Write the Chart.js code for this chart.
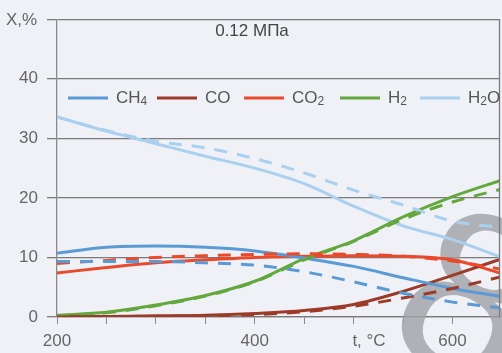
<!DOCTYPE html>
<html>
<head>
<meta charset="utf-8">
<script src="https://cdn.jsdelivr.net/npm/chart.js@4/dist/chart.umd.min.js"></script>
<style>
  html, body { margin: 0; padding: 0; background: #eff1f7; }
  #wrap { width: 502px; height: 353px; position: relative; }
</style>
</head>
<body>
<div id="wrap"><canvas id="c"></canvas></div>
<script>
// Temperature grid, °C
const temperatures = [200, 250, 300, 350, 400, 450, 500, 550, 600, 650];

// Mole fractions, % (solid and dashed curve sets)
const ch4Solid  = [10.7, 11.7, 11.9, 11.7, 11.1, 9.9, 8.5, 6.6, 4.8, 3.4];
const ch4Dashed = [9.3, 9.3, 9.3, 9.1, 8.7, 7.6, 5.9, 4.0, 2.5, 1.5];
const coSolid   = [0.1, 0.1, 0.2, 0.3, 0.6, 1.1, 2.1, 4.3, 7.0, 9.8];
const coDashed  = [0.0, 0.05, 0.1, 0.2, 0.4, 0.9, 1.8, 3.2, 4.8, 6.8];
const co2Solid  = [7.4, 8.3, 9.1, 9.6, 10.0, 10.2, 10.3, 10.2, 9.6, 7.3];
const co2Dashed = [9.0, 9.5, 10.0, 10.3, 10.5, 10.6, 10.5, 10.2, 9.4, 8.0];
const h2Solid   = [0.3, 0.8, 2.0, 3.6, 6.0, 9.8, 12.8, 16.8, 20.2, 23.0];
const h2Dashed  = [0.2, 0.7, 1.9, 3.5, 5.9, 9.6, 12.7, 16.4, 19.3, 21.5];
const h2oSolid  = [33.6, 31.2, 29.1, 27.0, 25.0, 22.4, 18.6, 15.3, 13.0, 10.0];
const h2oDashed = [33.6, 31.3, 29.5, 28.4, 26.6, 24.2, 21.3, 18.8, 16.1, 15.0];

const species = ['CH₄', 'CO', 'CO₂', 'H₂', 'H₂O'];
const speciesColors = ['#5b9bd5', '#9c3b28', '#ea4a2a', '#63a83c', '#a9d0ef'];
const yTicks = [0, 10, 20, 30, 40, 50];
const xTickValues = [200, 250, 300, 350, 400, 450, 500, 550, 600];
const xLabels = { 200: '200', 400: '400', 600: '600' };
const xAxisTitle = 't, °C';
const titleText = '0.12 МПа';
const yAxisTitle = 'X,%';
const pageMark = '8';

const FONT = '"Liberation Sans", Arial, sans-serif';
const FS = 17;

function series(values) {
  return values.map((v, i) => ({ x: temperatures[i], y: v }));
}

const solidSets = [ch4Solid, coSolid, co2Solid, h2Solid, h2oSolid];
const dashedSets = [ch4Dashed, coDashed, co2Dashed, h2Dashed, h2oDashed];

const datasets = [];
dashedSets.forEach((vals, i) => {
  datasets.push({
    label: species[i] + ' (dashed)',
    data: series(vals),
    borderColor: speciesColors[i],
    borderWidth: 3,
    borderDash: [13, 10],
    pointRadius: 0,
    cubicInterpolationMode: 'monotone',
    fill: false
  });
});
solidSets.forEach((vals, i) => {
  datasets.push({
    label: species[i],
    data: series(vals),
    borderColor: speciesColors[i],
    borderWidth: 3,
    pointRadius: 0,
    cubicInterpolationMode: 'monotone',
    fill: false
  });
});

// Draws text where subscript digits are rendered small and lowered
function drawChem(ctx, text, x, y, size) {
  const subs = { '₀':'0','₁':'1','₂':'2','₃':'3','₄':'4','₅':'5','₆':'6','₇':'7','₈':'8','₉':'9' };
  let cx = x;
  for (const ch of text) {
    if (subs[ch]) {
      ctx.font = Math.round(size * 0.68) + 'px ' + FONT;
      ctx.fillText(subs[ch], cx, y + size * 0.2);
      cx += ctx.measureText(subs[ch]).width;
    } else {
      ctx.font = size + 'px ' + FONT;
      ctx.fillText(ch, cx, y);
      cx += ctx.measureText(ch).width;
    }
  }
  return cx - x;
}

// left edges of the legend entries
const legendX = [68, 157, 244, 340, 420];

const decorPlugin = {
  id: 'decor',
  beforeDraw(chart) {
    const ctx = chart.ctx;
    ctx.save();
    ctx.fillStyle = '#eff1f7';
    ctx.fillRect(0, 0, chart.width, chart.height);
    ctx.restore();
  },
  beforeDatasetsDraw(chart) {
    const ctx = chart.ctx;
    // page number printed faintly across the corner
    ctx.save();
    ctx.translate(466, 311);
    ctx.rotate(0.45);
    ctx.font = '236px ' + FONT;
    ctx.fillStyle = 'rgba(160,160,166,0.8)';
    ctx.textAlign = 'center';
    ctx.textBaseline = 'middle';
    ctx.fillText(pageMark, 0, 0);
    ctx.restore();
  },
  afterDraw(chart) {
    const ctx = chart.ctx;
    const a = chart.chartArea;
    ctx.save();
    // right frame line
    ctx.strokeStyle = '#7a7a7a';
    ctx.lineWidth = 1.3;
    ctx.beginPath();
    ctx.moveTo(a.right - 0.5, a.top);
    ctx.lineTo(a.right - 0.5, a.bottom);
    ctx.stroke();

    ctx.fillStyle = '#666';
    ctx.textBaseline = 'middle';
    ctx.textAlign = 'left';
    ctx.font = FS + 'px ' + FONT;
    ctx.fillText(yAxisTitle, 6, a.top + 1);

    // x axis title sits between the tick labels
    ctx.textAlign = 'center';
    ctx.fillText(xAxisTitle, 369, 341);

    // pressure caption
    ctx.fillStyle = '#444';
    ctx.fillText(titleText, 252, 31);

    // legend inside the plot
    ctx.textAlign = 'left';
    const y = 98;
    species.forEach((name, i) => {
      const x = legendX[i];
      ctx.strokeStyle = speciesColors[i];
      ctx.lineWidth = 3;
      ctx.beginPath();
      ctx.moveTo(x, y);
      ctx.lineTo(x + 40, y);
      ctx.stroke();
      ctx.fillStyle = '#555';
      drawChem(ctx, name, x + 48, y, FS);
    });
    ctx.restore();
  }
};

new Chart(document.getElementById('c'), {
  type: 'line',
  data: { datasets },
  options: {
    responsive: true,
    maintainAspectRatio: false,
    animation: false,
    layout: { padding: { top: 14, right: 2, left: 0, bottom: 0 } },
    plugins: { legend: { display: false }, tooltip: { enabled: false } },
    scales: {
      x: {
        type: 'linear',
        min: 200,
        max: 648,
        afterFit(scale) { scale.height = 36; },
        afterBuildTicks(scale) {
          scale.ticks = xTickValues.map(v => ({ value: v }));
        },
        ticks: {
          autoSkip: false,
          maxRotation: 0,
          padding: 7,
          color: '#666',
          font: { size: FS, family: FONT },
          callback: v => xLabels[v] || ''
        },
        grid: {
          drawOnChartArea: false,
          tickLength: 7,
          color: '#8a8a8a',
          lineWidth: 1
        },
        border: { display: true, color: '#7a7a7a', width: 1.3 }
      },
      y: {
        min: 0,
        max: 50,
        afterFit(scale) { scale.width = 57; },
        afterBuildTicks(scale) {
          scale.ticks = yTicks.map(v => ({ value: v }));
        },
        ticks: {
          padding: 9,
          color: '#666',
          font: { size: FS, family: FONT },
          callback: v => (v === 50 ? '' : String(v))
        },
        grid: {
          color: '#7a7a7a',
          lineWidth: 1.3,
          tickLength: 10
        },
        border: { display: true, color: '#8a8a8a', width: 1.3 }
      }
    }
  },
  plugins: [decorPlugin]
});
</script>
</body>
</html>
